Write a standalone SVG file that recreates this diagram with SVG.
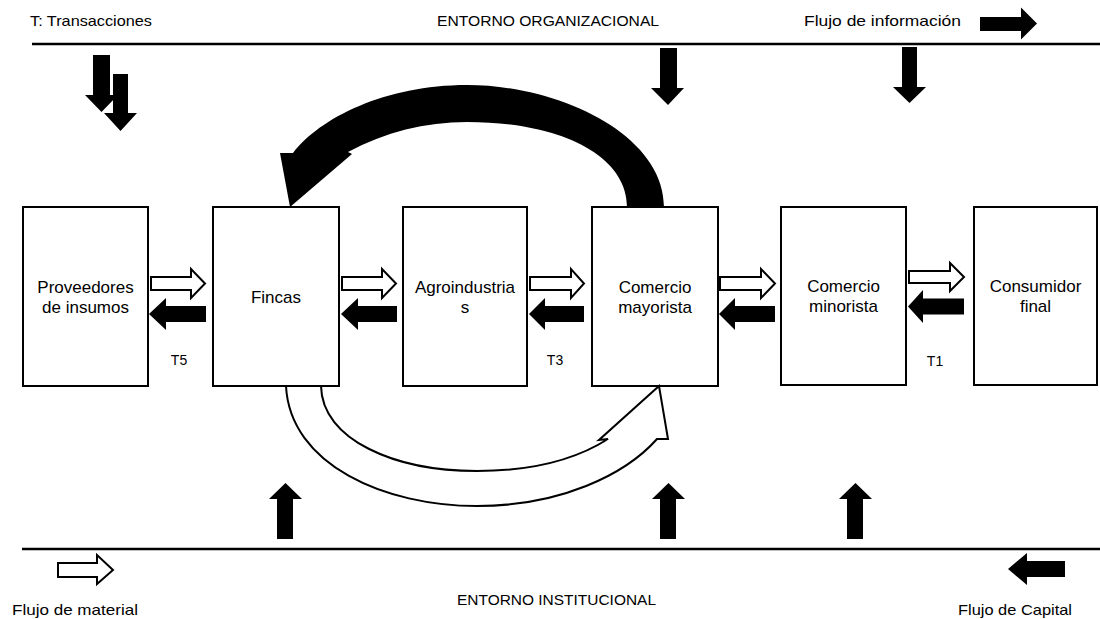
<svg xmlns="http://www.w3.org/2000/svg" width="1100" height="619" viewBox="0 0 1100 619">
<style>
.box{fill:#fff;stroke:#000;stroke-width:2}
.lbl{font-family:"Liberation Sans",Arial,sans-serif;font-size:17px;fill:#000;text-anchor:middle}
.env{font-family:"Liberation Sans",Arial,sans-serif;font-size:15px;fill:#000}
.t{font-family:"Liberation Sans",Arial,sans-serif;font-size:14px;fill:#000;text-anchor:middle}
.blk{fill:#000;stroke:none}
.wht{fill:#fff;stroke:#000;stroke-width:2;stroke-linejoin:miter}
.rule{stroke:#000;stroke-width:2.5}
</style>
<rect width="1100" height="619" fill="#fff"/>

<g id="environment">
<line class="rule" x1="32" y1="44" x2="1100" y2="44"/>
<line class="rule" x1="22" y1="549" x2="1100" y2="549"/>
<text class="env" x="30" y="26" textLength="122" lengthAdjust="spacingAndGlyphs">T: Transacciones</text>
<text class="env" x="437" y="26" textLength="222" lengthAdjust="spacingAndGlyphs">ENTORNO ORGANIZACIONAL</text>
<text class="env" x="804" y="26" textLength="157" lengthAdjust="spacingAndGlyphs">Flujo de información</text>
<text class="env" x="12" y="615" textLength="126" lengthAdjust="spacingAndGlyphs">Flujo de material</text>
<text class="env" x="457" y="605" textLength="199" lengthAdjust="spacingAndGlyphs">ENTORNO INSTITUCIONAL</text>
<text class="env" x="958" y="615" textLength="114" lengthAdjust="spacingAndGlyphs">Flujo de Capital</text>
</g>

<g id="legend">
<polygon class="blk" points="980,17 1021,17 1021,7.5 1037,23.5 1021,39.5 1021,31 980,31"/>
<polygon class="wht" points="58,563 97,563 97,555 113,570 97,584 97,577 58,577"/>
<polygon class="blk" points="1065,561 1027,561 1027,553 1008,569 1027,585 1027,577 1065,577"/>
</g>

<g id="node-proveedores">
<rect class="box" x="23" y="207" width="125" height="179"/>
<text class="lbl" x="85.5" y="293">Proveedores</text>
<text class="lbl" x="85.5" y="313">de insumos</text>
</g>
<g id="node-fincas">
<rect class="box" x="213" y="207" width="126" height="179"/>
<text class="lbl" x="276" y="303">Fincas</text>
</g>
<g id="node-agroindustrias">
<rect class="box" x="403" y="207" width="124" height="179"/>
<text class="lbl" x="465" y="293">Agroindustria</text>
<text class="lbl" x="465" y="313">s</text>
</g>
<g id="node-mayorista">
<rect class="box" x="592" y="207" width="126" height="179"/>
<text class="lbl" x="655" y="293">Comercio</text>
<text class="lbl" x="655" y="313">mayorista</text>
</g>
<g id="node-minorista">
<rect class="box" x="781" y="207" width="125" height="178"/>
<text class="lbl" x="843.5" y="292">Comercio</text>
<text class="lbl" x="843.5" y="312">minorista</text>
</g>
<g id="node-consumidor">
<rect class="box" x="974" y="207" width="123" height="178"/>
<text class="lbl" x="1035.5" y="292">Consumidor</text>
<text class="lbl" x="1035.5" y="312">final</text>
</g>

<g id="connectors">
<!-- environment influence arrows (top, down) -->
<polygon class="blk" points="93,55 110,55 110,95 118,95 101.5,112 85,95 93,95"/>
<polygon class="blk" points="113,74 128,74 128,113 137,113 120.5,131 104,113 113,113"/>
<polygon class="blk" points="660,48 677,48 677,88 684,88 668,105 651,88 660,88"/>
<polygon class="blk" points="902,47 917,47 917,87 926,87 909.5,103 893,87 902,87"/>
<!-- institutional arrows (bottom, up) -->
<polygon class="blk" points="277,539 293,539 293,499 302,499 285.5,483 269,499 277,499"/>
<polygon class="blk" points="660,539 676,539 676,499 685,499 668.5,483 652,499 660,499"/>
<polygon class="blk" points="847,539 863,539 863,499 872,499 855.5,483 839,499 847,499"/>

<!-- T5 -->
<polygon class="wht" points="151,277 191,277 191,269 205,283.5 191,298 191,290 151,290"/>
<polygon class="blk" points="206,306 166,306 166,298 149,314 166,330 166,322 206,322"/>
<!-- Fincas - Agro -->
<polygon class="wht" points="342,277 382,277 382,269 396,283.5 382,298 382,290 342,290"/>
<polygon class="blk" points="397,306 358,306 358,298 341,314 358,330 358,322 397,322"/>
<!-- T3 -->
<polygon class="wht" points="530,277 571,277 571,269 584,283.5 571,298 571,290 530,290"/>
<polygon class="blk" points="584,306 545,306 545,298 529,314 545,330 545,322 584,322"/>
<!-- mayorista - minorista -->
<polygon class="wht" points="720,277 761,277 761,269 775,283.5 761,298 761,290 720,290"/>
<polygon class="blk" points="775,306 735,306 735,298 719,314 735,330 735,322 775,322"/>
<!-- T1 -->
<polygon class="wht" points="909,271 950,271 950,263 964,277 950,291 950,283 909,283"/>
<polygon class="blk" points="964,298.5 923,298.5 923,290 908,306.5 923,323 923,314.5 964,314.5"/>

<!-- big information/capital loop (mayorista to fincas) -->
<path class="blk" d="M 664 207 C 664 135, 560 85, 467 85 C 385 85, 320 118, 293 153 L 280 153 L 290 207 L 352 154 L 348 152 C 385 132, 425 122, 467 122 C 560 122, 627 155, 627 207 Z"/>
<!-- material loop (fincas to mayorista) -->
<path class="wht" d="M 286 386 C 290 465, 385 506, 477 506 C 560 506, 625 475, 657 439 L 668 439 L 659 386 L 599 440 L 608 439 C 575 460, 530 471, 477 471 C 395 471, 322 440, 321 386 Z"/>

<text class="t" x="179" y="365">T5</text>
<text class="t" x="555" y="365">T3</text>
<text class="t" x="935" y="366">T1</text>
</g>
</svg>
